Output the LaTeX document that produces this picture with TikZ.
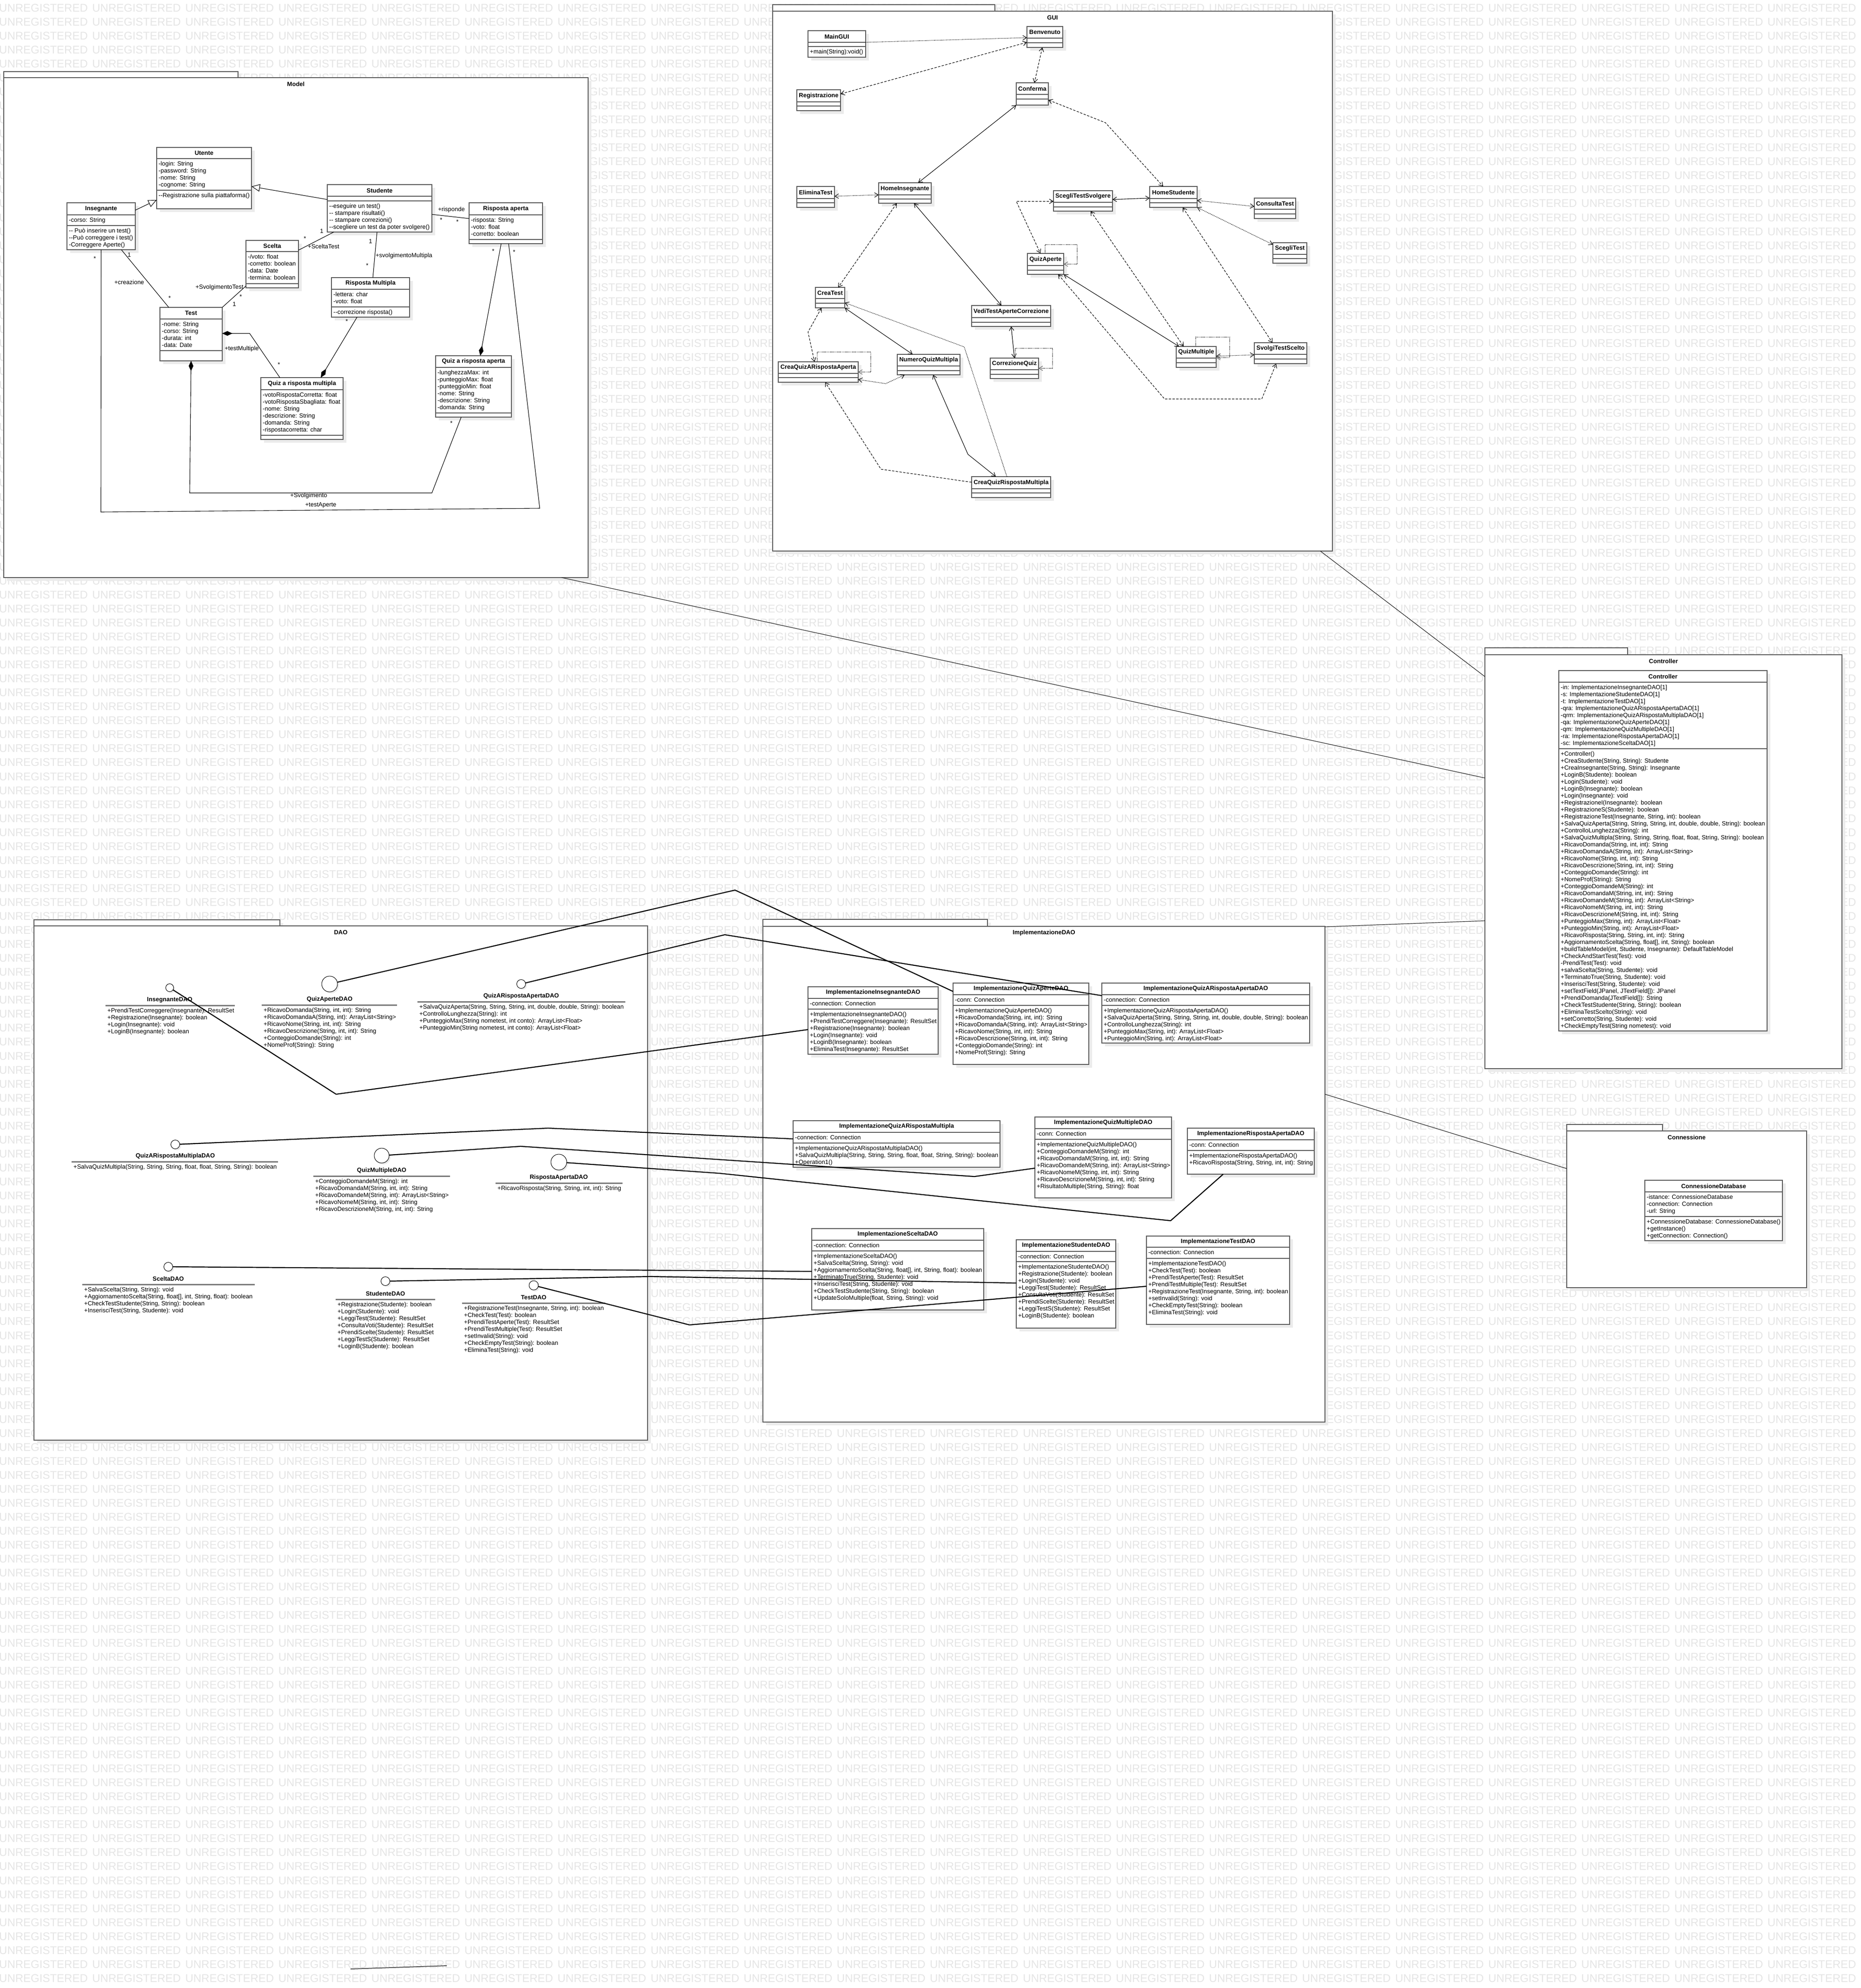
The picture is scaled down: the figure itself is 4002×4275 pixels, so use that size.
\documentclass[tikz,border=0pt]{standalone}
\usepackage{fontspec}
\setmainfont{Liberation Sans}[Ligatures=TeXOff]
\usetikzlibrary{arrows.meta,shadows}

\definecolor{umlborder}{gray}{0.35}
\definecolor{umlshadow}{gray}{0.92}
\definecolor{wmgray}{gray}{0.9}

\tikzset{
  classbox/.style={draw=umlborder, line width=2pt, fill=white, inner sep=0pt, outer sep=0pt,
    drop shadow={shadow xshift=7pt, shadow yshift=-7pt, fill=umlshadow, opacity=1}},
  classline/.style={draw=umlborder, line width=2pt},
  classname/.style={font=\fontsize{13}{15}\selectfont\bfseries, inner sep=0pt},
  members/.style={anchor=north west, inner xsep=4pt, inner ysep=0pt, yshift=-3pt, align=left,
    font=\fontsize{13}{15}\selectfont},
  pkgbox/.style={draw=umlborder, line width=2pt, fill=white, inner sep=0pt, outer sep=0pt,
    drop shadow={shadow xshift=7pt, shadow yshift=-7pt, fill=umlshadow, opacity=1}},
  pkgtitle/.style={font=\fontsize{13}{15}\selectfont\bfseries, inner sep=0pt},
  iface/.style={circle, draw=black, line width=1pt, fill=white, inner sep=0pt, outer sep=0pt,
    drop shadow={shadow xshift=3pt, shadow yshift=-3pt, fill=umlshadow, opacity=1}},
  ifline/.style={draw=umlborder!80, line width=3pt},
  assoc/.style={draw=black, line width=1.1pt},
  gen/.style={assoc, -{Triangle[open, length=18pt, width=16pt, fill=white]}},
  comp/.style={assoc, -{Diamond[length=22pt, width=10pt]}},
  lbl/.style={font=\fontsize{13}{15}\selectfont, inner sep=0pt},
  nav/.style={draw=black, line width=1.1pt},
  dsh/.style={nav, dash pattern=on 5pt off 3pt},
  dtt/.style={nav, dash pattern=on 1.6pt off 1.6pt},
  loopl/.style={draw=black!60, line width=1.1pt, dash pattern=on 1.6pt off 1.6pt},
  real/.style={draw=black, line width=2.2pt},
  dep/.style={draw=black!85, line width=1.2pt},
  watermark/.style={anchor=west, inner sep=0pt, text=wmgray, font=\fontsize{24}{24}\selectfont}
}

% class box: id, left, top, right, bottom, first divider, second divider, name
\newcommand{\umlclass}[8]{%
  \node[classbox, anchor=north west, minimum width={(#4-#2)*1pt}, minimum height={(#5-#3)*1pt}] (#1) at (#2,#3) {};
  \draw[classline] (#2,#6) -- (#4,#6) (#2,#7) -- (#4,#7);
  \node[classname] (#1-name) at ({(#2+#4)/2},{(#3+#6)/2}) {#8};
  \coordinate (#1-a) at (#2,#6);
  \coordinate (#1-o) at (#2,#7);
}
% package: id, left, tab top, tab right, frame top, right, bottom, title
\newcommand{\umlpackage}[8]{%
  \node[pkgbox, anchor=south west, minimum width={(#4-#2)*1pt}, minimum height={(#5-#3)*1pt}] (#1-tab) at (#2,#5) {};
  \node[pkgbox, anchor=north west, minimum width={(#6-#2)*1pt}, minimum height={(#7-#5)*1pt}] (#1) at (#2,#5) {};
  \node[pkgtitle] (#1-title) at ({(#2+#6)/2},#5+14) {#8};
}
% interface: id, cx, cy, radius, line y, line left, line right, name
\newcommand{\umliface}[8]{%
  \node[iface, minimum size={2*#4*1pt}] (#1) at (#2,#3) {};
  \node[classname] (#1-name) at (#2,#5-12) {#8};
  \draw[ifline] (#6,#5) -- (#7,#5);
  \coordinate (#1-o) at (#6,#5);
}
\newcommand{\fl}{\rule{0pt}{12pt}}
\newcommand{\members}[2]{\node[members] (#1-t) at (#1) {\fl #2};}
\newcommand{\wmword}{\makebox[200.2pt][l]{UNREGISTERED}}
\newcommand{\wmrow}{\wmword\wmword\wmword\wmword\wmword\wmword\wmword\wmword\wmword\wmword\wmword%
  \wmword\wmword\wmword\wmword\wmword\wmword\wmword\wmword\wmword\wmword}

\begin{document}
\begin{tikzpicture}[x=1pt, y=-1pt, >={Straight Barb[length=8pt, width=10pt]}]
  \useasboundingbox (0,0) rectangle (4002,4275);
  \fill[white] (0,0) rectangle (4002,4275);
  \begin{scope}
    \clip (0,0) rectangle (4002,4275);
    \foreach \k in {0,...,141}
      \node[watermark] (wm\k) at (-2,17+30.05*\k) {\wmrow};
  \end{scope}

  % packages
  \umlpackage{Model}{8}{154}{512}{167}{1265}{1242}{Model}
  \umlpackage{GUI}{1662}{10}{2140}{24}{2866}{1185}{GUI}
  \umlpackage{CtrlPkg}{3194}{1393}{3501}{1408}{3962}{2298}{Controller}
  \umlpackage{DAO}{73}{1978}{602}{1991}{1393}{3097}{DAO}
  \umlpackage{ImplDAO}{1641}{1977}{2124}{1992}{2850}{3058}{ImplementazioneDAO}
  \umlpackage{Conn}{3370}{2418}{3576}{2432}{3886}{2769}{Connessione}

  % Model
  \umlclass{Utente}{337}{317}{541}{449}{341}{409}{Utente}
  \members{Utente-a}{-login: String\\-password: String\\-nome: String\\-cognome: String}
  \members{Utente-o}{--Registrazione sulla piattaforma()}
  \umlclass{Insegnante}{144}{436}{291}{537}{462}{485}{Insegnante}
  \members{Insegnante-a}{-corso: String}
  \members{Insegnante-o}{-- Può inserire un test()\\--Può correggere i test()\\-Correggere Aperte()}
  \umlclass{Studente}{704}{397}{929}{499}{422}{432}{Studente}
  \members{Studente-o}{--eseguire un test()\\-- stampare risultati()\\-- stampare correzioni()\\--scegliere un test da poter svolgere()}
  \umlclass{RispAperta}{1009}{436}{1167}{524}{462}{515}{Risposta aperta}
  \members{RispAperta-a}{-risposta: String\\-voto: float\\-corretto: boolean}
  \umlclass{Scelta}{529}{517}{642}{619}{541}{610}{Scelta}
  \members{Scelta-a}{-/voto: float\\-corretto: boolean\\-data: Date\\-termina: boolean}
  \umlclass{RispMult}{713}{597}{881}{682}{622}{660}{Risposta Multipla}
  \members{RispMult-a}{-lettera: char\\-voto: float}
  \members{RispMult-o}{--correzione risposta()}
  \umlclass{Test}{344}{661}{478}{776}{686}{754}{Test}
  \members{Test-a}{-nome: String\\-corso: String\\-durata: int\\-data: Date}
  \umlclass{QuizMult}{561}{812}{738}{945}{838}{936}{Quiz a risposta multipla}
  \members{QuizMult-a}{-votoRispostaCorretta: float\\-votoRispostaSbagliata: float\\-nome: String\\-descrizione: String\\-domanda: String\\-rispostacorretta: char}
  \umlclass{QuizAperta}{937}{765}{1100}{897}{790}{888}{Quiz a risposta aperta}
  \members{QuizAperta-a}{-lunghezzaMax: int\\-punteggioMax: float\\-punteggioMin: float\\-nome: String\\-descrizione: String\\-domanda: String}

  \draw[gen] ([yshift=-16pt]Insegnante.north east) -- ([yshift=19pt]Utente.south west);
  \draw[gen] ([yshift=-32pt]Studente.north west) -- ([yshift=-84pt]Utente.north east);
  \draw[assoc] ([yshift=38pt]Studente.south east) -- ([yshift=-34pt]RispAperta.north west);
  \draw[assoc] ([xshift=14pt]Studente.south west) -- ([yshift=-21pt]Scelta.north east);
  \draw[assoc] ([xshift=107pt]Studente.south west) -- ([xshift=89pt]RispMult.north west);
  \draw[assoc] ([xshift=-30pt]Insegnante.south east) -- ([xshift=19pt]Test.north west);
  \draw[assoc] ([yshift=4pt]Scelta.south west) -- (Test.north east);
  \draw[comp] ([xshift=55pt]RispMult.south west) -- ([xshift=129pt]QuizMult.north west);
  \draw[comp] ([xshift=41pt]QuizMult.north west) -- (537,717) -- ([yshift=-56pt]Test.north east);
  \draw[comp] ([xshift=69pt]RispAperta.south west) -- ([xshift=96pt]QuizAperta.north west);
  \draw[comp] ([xshift=55pt]QuizAperta.south west) -- (929,1060) -- (408,1060) -- (Test.south);
  \draw[assoc] (Insegnante.south) -- (217,1101) -- (1161,1093) -- ([xshift=85pt]RispAperta.south west);

  \node[lbl] (l1) at (971,451) {+risponde};
  \node[lbl] (l2) at (949,473) {*};
  \node[lbl] (l3) at (984,477) {*};
  \node[lbl] (l4) at (692,497) {1};
  \node[lbl] (l5) at (656,513) {*};
  \node[lbl] (l6) at (696,530) {+SceltaTest};
  \node[lbl] (l7) at (797,519) {1};
  \node[lbl] (l8) at (869,550) {+svolgimentoMultipla};
  \node[lbl] (l9) at (790,571) {*};
  \node[lbl] (l10) at (278,548) {1};
  \node[lbl] (l11) at (278,607) {+creazione};
  \node[lbl] (l12) at (365,641) {*};
  \node[lbl] (l13) at (472,618) {+SvolgimentoTest};
  \node[lbl] (l14) at (518,638) {*};
  \node[lbl] (l15) at (504,654) {1};
  \node[lbl] (l16) at (746,691) {*};
  \node[lbl] (l17) at (520,750) {+testMultiple};
  \node[lbl] (l18) at (600,784) {*};
  \node[lbl] (l19) at (1061,540) {*};
  \node[lbl] (l20) at (664,1066) {+Svolgimento};
  \node[lbl] (l21) at (971,910) {*};
  \node[lbl] (l22) at (204,556) {*};
  \node[lbl] (l23) at (1106,542) {*};
  \node[lbl] (l24) at (690,1086) {+testAperte};

  % GUI
  \umlclass{MainGUI}{1738}{66}{1862}{123}{91}{100}{MainGUI}
  \members{MainGUI-o}{+main(String):void()}
  \umlclass{Benvenuto}{2209}{57}{2286}{102}{82}{92}{Benvenuto}
  \umlclass{Registrazione}{1714}{193}{1808}{238}{219}{228}{Registrazione}
  \umlclass{Conferma}{2186}{178}{2255}{226}{203}{213}{Conferma}
  \umlclass{EliminaTest}{1714}{401}{1795}{446}{427}{436}{EliminaTest}
  \umlclass{HomeIns}{1890}{393}{2003}{437}{419}{428}{HomeInsegnante}
  \umlclass{ScegliSvolg}{2266}{410}{2393}{454}{435}{445}{ScegliTestSvolgere}
  \umlclass{HomeStud}{2473}{401}{2575}{446}{427}{436}{HomeStudente}
  \umlclass{ConsultaTest}{2698}{426}{2787}{470}{450}{460}{ConsultaTest}
  \umlclass{ScegliTest}{2738}{522}{2811}{566}{547}{556}{ScegliTest}
  \umlclass{QuizAperte}{2210}{545}{2288}{590}{571}{581}{QuizAperte}
  \umlclass{CreaTest}{1754}{618}{1817}{662}{642}{652}{CreaTest}
  \umlclass{VediTAC}{2090}{657}{2260}{702}{683}{693}{VediTestAperteCorrezione}
  \umlclass{CreaQARA}{1674}{778}{1846}{822}{803}{812}{CreaQuizARispostaAperta}
  \umlclass{NumeroQM}{1930}{762}{2065}{806}{787}{797}{NumeroQuizMultipla}
  \umlclass{CorrQuiz}{2130}{770}{2234}{814}{795}{805}{CorrezioneQuiz}
  \umlclass{QuizMultiple}{2530}{745}{2616}{790}{770}{780}{QuizMultiple}
  \umlclass{SvolgiTS}{2698}{737}{2811}{782}{762}{772}{SvolgiTestScelto}
  \umlclass{CreaQRM}{2090}{1025}{2260}{1070}{1051}{1060}{CreaQuizRispostaMultipla}

  \draw[dtt,->] ([yshift=-25pt]MainGUI.north east) -- ([yshift=-24pt]Benvenuto.north west);
  \draw[dsh,<->] ([yshift=-9pt]Registrazione.north east) -- ([yshift=-34pt]Benvenuto.north west);
  \draw[dsh,<->] ([xshift=33pt]Benvenuto.south west) -- ([xshift=39pt]Conferma.north west);
  \draw[nav,<->] (Conferma.south west) -- ([xshift=85pt]HomeIns.north west);
  \draw[dsh,<->] ([yshift=11pt]Conferma.south east) -- (2378,264) -- ([xshift=29pt]HomeStud.north west);
  \draw[dtt,<->] ([yshift=-21pt]EliminaTest.north east) -- ([yshift=-26pt]HomeIns.north west);
  \draw[nav,<->] ([yshift=-19pt]ScegliSvolg.north east) -- ([yshift=-25pt]HomeStud.north west);
  \draw[dtt,<->] ([yshift=-30pt]HomeStud.north east) -- ([yshift=-18pt]ConsultaTest.north west);
  \draw[dtt,<->] (HomeStud.south east) -- ([yshift=-4pt]ScegliTest.north west);
  \draw[dsh,<->] ([yshift=-23pt]ScegliSvolg.north west) -- (2186,433) -- ([xshift=28pt]QuizAperte.north west);
  \draw[loopl,->] ([xshift=38pt]QuizAperte.north west) -- (2248,526) -- (2317,526) -- (2317,568) -- ([yshift=-23pt]QuizAperte.north east);
  \draw[dsh,<->] ([xshift=39pt]HomeIns.south west) -- ([xshift=49pt]CreaTest.north west);
  \draw[nav,<->] ([xshift=76pt]HomeIns.south west) -- ([xshift=64pt]VediTAC.north west);
  \draw[dsh,<->] ([xshift=80pt]ScegliSvolg.south west) -- ([xshift=16pt]QuizMultiple.north west);
  \draw[dsh,<->] ([xshift=71pt]HomeStud.south west) -- ([xshift=39pt]SvolgiTS.north west);
  \draw[nav,<->] (QuizAperte.south east) -- ([xshift=6pt]QuizMultiple.north west);
  \draw[dsh,<->] ([xshift=-12pt]QuizAperte.south east) -- (2505,858) -- (2714,858) -- ([xshift=47pt]SvolgiTS.south west);
  \draw[dtt,<->] ([yshift=-21pt]QuizMultiple.north east) -- ([yshift=-26pt]SvolgiTS.north west);
  \draw[loopl,->] ([xshift=42pt]QuizMultiple.north west) -- (2572,725) -- (2645,725) -- (2645,769) -- ([yshift=-24pt]QuizMultiple.north east);
  \draw[dsh,<->] ([xshift=13pt]CreaTest.south west) -- (1738,714) -- ([xshift=78pt]CreaQARA.north west);
  \draw[loopl,->] ([xshift=84pt]CreaQARA.north west) -- (1758,757) -- (1873,757) -- (1873,800) -- ([yshift=-22pt]CreaQARA.north east);
  \draw[nav,<->] (CreaTest.south east) -- ([xshift=33pt]NumeroQM.north west);
  \draw[dtt,->] ([xshift=76pt]CreaQRM.north west) -- (2074,746) -- ([yshift=-33pt]CreaTest.north east);
  \draw[dtt,<->] ([yshift=6pt]CreaQARA.south east) -- (1905,825) -- ([xshift=16pt]NumeroQM.south west);
  \draw[nav,<->] ([xshift=77pt]NumeroQM.south west) -- (2082,977) -- ([xshift=52pt]CreaQRM.north west);
  \draw[dsh,->] ([yshift=-12pt]CreaQRM.north west) -- (1895,1009) -- ([xshift=101pt]CreaQARA.south west);
  \draw[nav,<->] ([xshift=85pt]VediTAC.south west) -- ([xshift=52pt]CorrQuiz.north west);
  \draw[loopl,->] ([xshift=54pt]CorrQuiz.north west) -- (2184,749) -- (2264,749) -- (2264,792) -- ([yshift=-22pt]CorrQuiz.north east);

  % Controller
  \umlclass{Controller}{3353}{1442}{3801}{2217}{1467}{1610}{Controller}
  \members{Controller-a}{-in: ImplementazioneInsegnanteDAO[1]\\-s: ImplementazioneStudenteDAO[1]\\-t: ImplementazioneTestDAO[1]\\-qra: ImplementazioneQuizARispostaApertaDAO[1]\\-qrm: ImplementazioneQuizARispostaMultiplaDAO[1]\\-qa: ImplementazioneQuizAperteDAO[1]\\-qm: ImplementazioneQuizMultipleDAO[1]\\-ra: ImplementazioneRispostaApertaDAO[1]\\-sc: ImplementazioneSceltaDAO[1]}
  \members{Controller-o}{+Controller()\\+CreaStudente(String, String): Studente\\+CreaInsegnante(String, String): Insegnante\\+LoginB(Studente): boolean\\+Login(Studente): void\\+LoginB(Insegnante): boolean\\+Login(Insegnante): void\\+RegistrazioneI(Insegnante): boolean\\+RegistrazioneS(Studente): boolean\\+RegistrazioneTest(Insegnante, String, int): boolean\\+SalvaQuizAperta(String, String, String, int, double, double, String): boolean\\+ControlloLunghezza(String): int\\+SalvaQuizMultipla(String, String, String, float, float, String, String): boolean\\+RicavoDomanda(String, int, int): String\\+RicavoDomandaA(String, int): ArrayList<String>\\+RicavoNome(String, int, int): String\\+RicavoDescrizione(String, int, int): String\\+ConteggioDomande(String): int\\+NomeProf(String): String\\+ConteggioDomandeM(String): int\\+RicavoDomandaM(String, int, int): String\\+RicavoDomandeM(String, int): ArrayList<String>\\+RicavoNomeM(String, int, int): String\\+RicavoDescrizioneM(String, int, int): String\\+PunteggioMax(String, int): ArrayList<Float>\\+PunteggioMin(String, int): ArrayList<Float>\\+RicavoRisposta(String, String, int, int): String\\+AggiornamentoScelta(String, float[], int, String): boolean\\+buildTableModel(int, Studente, Insegnante): DefaultTableModel\\+CheckAndStartTest(Test): void\\-PrendiTest(Test): void\\+salvaScelta(String, Studente): void\\+TerminatoTrue(String, Studente): void\\+InserisciTest(String, Studente): void\\+setTextField(JPanel, JTextField[]): JPanel\\+PrendiDomanda(JTextField[]): String\\+CheckTestStudente(String, String): boolean\\+EliminaTestScelto(String): void\\+setCorretto(String, Studente): void\\+CheckEmptyTest(String nometest): void}

  % Connessione
  \umlclass{ConnDB}{3538}{2538}{3834}{2668}{2563}{2616}{ConnessioneDatabase}
  \members{ConnDB-a}{-istance: ConnessioneDatabase\\-connection: Connection\\-url: String}
  \members{ConnDB-o}{+ConnessioneDatabase: ConnessioneDatabase()\\+getInstance()\\+getConnection: Connection()}

  % DAO
  \umliface{InsegnanteDAO}{365}{2124}{8.5}{2162}{227}{505}{InsegnanteDAO}
  \members{InsegnanteDAO-o}{+PrendiTestCorreggere(Insegnante): ResultSet\\+Registrazione(Insegnante): boolean\\+Login(Insegnante): void\\+LoginB(Insegnante): boolean}
  \umliface{QuizAperteDAO}{709}{2116}{17}{2161}{563}{854}{QuizAperteDAO}
  \members{QuizAperteDAO-o}{+RicavoDomanda(String, int, int): String\\+RicavoDomandaA(String, int): ArrayList<String>\\+RicavoNome(String, int, int): String\\+RicavoDescrizione(String, int, int): String\\+ConteggioDomande(String): int\\+NomeProf(String): String}
  \umliface{QuizARispostaApertaDAO}{1121}{2116}{9.5}{2154}{898}{1345}{QuizARispostaApertaDAO}
  \members{QuizARispostaApertaDAO-o}{+SalvaQuizAperta(String, String, String, int, double, double, String): boolean\\+ControlloLunghezza(String): int\\+PunteggioMax(String nometest, int conto): ArrayList<Float>\\+PunteggioMin(String nometest, int conto): ArrayList<Float>}
  \umliface{QuizARispostaMultiplaDAO}{377}{2461}{9.5}{2498}{154}{598}{QuizARispostaMultiplaDAO}
  \members{QuizARispostaMultiplaDAO-o}{+SalvaQuizMultipla(String, String, String, float, float, String, String): boolean}
  \umliface{QuizMultipleDAO}{821}{2485}{16}{2529}{674}{968}{QuizMultipleDAO}
  \members{QuizMultipleDAO-o}{+ConteggioDomandeM(String): int\\+RicavoDomandaM(String, int, int): String\\+RicavoDomandeM(String, int): ArrayList<String>\\+RicavoNomeM(String, int, int): String\\+RicavoDescrizioneM(String, int, int): String}
  \umliface{RispostaApertaDAO}{1202}{2499}{17}{2544}{1066}{1339}{RispostaApertaDAO}
  \members{RispostaApertaDAO-o}{+RicavoRisposta(String, String, int, int): String}
  \umliface{SceltaDAO}{362}{2724}{9.5}{2762}{177}{548}{SceltaDAO}
  \members{SceltaDAO-o}{+SalvaScelta(String, String): void\\+AggiornamentoScelta(String, float[], int, String, float): boolean\\+CheckTestStudente(String, String): boolean\\+InserisciTest(String, Studente): void}
  \umliface{StudenteDAO}{829}{2755}{9.5}{2794}{722}{936}{StudenteDAO}
  \members{StudenteDAO-o}{+Registrazione(Studente): boolean\\+Login(Studente): void\\+LeggiTest(Studente): ResultSet\\+ConsultaVoti(Studente): ResultSet\\+PrendiScelte(Studente): ResultSet\\+LeggiTestS(Studente): ResultSet\\+LoginB(Studente): boolean}
  \umliface{TestDAO}{1148}{2764}{10}{2802}{994}{1302}{TestDAO}
  \members{TestDAO-o}{+RegistrazioneTest(Insegnante, String, int): boolean\\+CheckTest(Test): boolean\\+PrendiTestAperte(Test): ResultSet\\+PrendiTestMultiple(Test): ResultSet\\+setInvalid(String): void\\+CheckEmptyTest(String): boolean\\+EliminaTest(String): void}

  % ImplementazioneDAO
  \umlclass{ImplIns}{1738}{2122}{2018}{2267}{2147}{2170}{ImplementazioneInsegnanteDAO}
  \members{ImplIns-a}{-connection: Connection}
  \members{ImplIns-o}{+ImplementazioneInsegnanteDAO()\\+PrendiTestCorreggere(Insegnante): ResultSet\\+Registrazione(Insegnante): boolean\\+Login(Insegnante): void\\+LoginB(Insegnante): boolean\\+EliminaTest(Insegnante): ResultSet}
  \umlclass{ImplQA}{2050}{2114}{2342}{2289}{2139}{2162}{ImplementazioneQuizAperteDAO}
  \members{ImplQA-a}{-conn: Connection}
  \members{ImplQA-o}{+ImplementazioneQuizAperteDAO()\\+RicavoDomanda(String, int, int): String\\+RicavoDomandaA(String, int): ArrayList<String>\\+RicavoNome(String, int, int): String\\+RicavoDescrizione(String, int, int): String\\+ConteggioDomande(String): int\\+NomeProf(String): String}
  \umlclass{ImplQARA}{2370}{2114}{2817}{2243}{2139}{2162}{ImplementazioneQuizARispostaApertaDAO}
  \members{ImplQARA-a}{-connection: Connection}
  \members{ImplQARA-o}{+ImplementazioneQuizARispostaApertaDAO()\\+SalvaQuizAperta(String, String, String, int, double, double, String): boolean\\+ControlloLunghezza(String): int\\+PunteggioMax(String, int): ArrayList<Float>\\+PunteggioMin(String, int): ArrayList<Float>}
  \umlclass{ImplQARM}{1706}{2410}{2151}{2510}{2435}{2458}{ImplementazioneQuizARispostaMultipla}
  \members{ImplQARM-a}{-connection: Connection}
  \members{ImplQARM-o}{+ImplementazioneQuizARispostaMultiplaDAO()\\+SalvaQuizMultipla(String, String, String, float, float, String, String): boolean\\+Operation1()}
  \umlclass{ImplQM}{2226}{2402}{2520}{2576}{2427}{2450}{ImplementazioneQuizMultipleDAO}
  \members{ImplQM-a}{-conn: Connection}
  \members{ImplQM-o}{+ImplementazioneQuizMultipleDAO()\\+ConteggioDomandeM(String): int\\+RicavoDomandaM(String, int, int): String\\+RicavoDomandeM(String, int): ArrayList<String>\\+RicavoNomeM(String, int, int): String\\+RicavoDescrizioneM(String, int, int): String\\+RisultatoMultiple(String, String): float}
  \umlclass{ImplRA}{2554}{2426}{2827}{2525}{2451}{2474}{ImplementazioneRispostaApertaDAO}
  \members{ImplRA-a}{-conn: Connection}
  \members{ImplRA-o}{+ImplementazioneRispostaApertaDAO()\\+RicavoRisposta(String, String, int, int): String}
  \umlclass{ImplScelta}{1746}{2642}{2116}{2817}{2667}{2690}{ImplementazioneSceltaDAO}
  \members{ImplScelta-a}{-connection: Connection}
  \members{ImplScelta-o}{+ImplementazioneSceltaDAO()\\+SalvaScelta(String, String): void\\+AggiornamentoScelta(String, float[], int, String, float): boolean\\+TerminatoTrue(String, Studente): void\\+InserisciTest(String, Studente): void\\+CheckTestStudente(String, String): boolean\\+UpdateSoloMultiple(float, String, String): void}
  \umlclass{ImplStud}{2186}{2666}{2400}{2856}{2691}{2713}{ImplementazioneStudenteDAO}
  \members{ImplStud-a}{-connection: Connection}
  \members{ImplStud-o}{+ImplementazioneStudenteDAO()\\+Registrazione(Studente): boolean\\+Login(Studente): void\\+LeggiTest(Studente): ResultSet\\+ConsultaVoti(Studente): ResultSet\\+PrendiScelte(Studente): ResultSet\\+LeggiTestS(Studente): ResultSet\\+LoginB(Studente): boolean}
  \umlclass{ImplTest}{2466}{2658}{2774}{2848}{2682}{2706}{ImplementazioneTestDAO}
  \members{ImplTest-a}{-connection: Connection}
  \members{ImplTest-o}{+ImplementazioneTestDAO()\\+CheckTest(Test): boolean\\+PrendiTestAperte(Test): ResultSet\\+PrendiTestMultiple(Test): ResultSet\\+RegistrazioneTest(Insegnante, String, int): boolean\\+setInvalid(String): void\\+CheckEmptyTest(String): boolean\\+EliminaTest(String): void}

  \draw[real] (InsegnanteDAO) -- (723,2353) -- ([yshift=-92pt]ImplIns.north west);
  \draw[real] (QuizAperteDAO) -- (1581,1914) -- ([yshift=-18pt]ImplQA.north west);
  \draw[real] (QuizARispostaApertaDAO) -- (1559,2010) -- ([yshift=-27pt]ImplQARA.north west);
  \draw[real] (QuizARispostaMultiplaDAO) -- (1179,2426) -- ([yshift=-39pt]ImplQARM.north west);
  \draw[real] (QuizMultipleDAO) -- (1120,2465) -- (2096,2530) -- ([yshift=-110pt]ImplQM.north west);
  \draw[real] (RispostaApertaDAO) -- (1547,2523) -- (2518,2625) -- ([xshift=77pt]ImplRA.south west);
  \draw[real] (SceltaDAO) -- ([yshift=-92pt]ImplScelta.north west);
  \draw[real] (StudenteDAO) -- (1400,2745) -- ([yshift=-93pt]ImplStud.north west);
  \draw[real] (TestDAO) -- (1483,2849) -- ([yshift=-108pt]ImplTest.north west);

  % packages to controller
  \draw[dep] ([xshift=-57pt]Model.south east) -- ([yshift=-265pt]CtrlPkg.north west);
  \draw[dep] ([xshift=-26pt]GUI.south east) -- ([yshift=-47pt]CtrlPkg.north west);
  \draw[dep] ([yshift=-1pt]ImplDAO.north east) -- ([yshift=-572pt]CtrlPkg.north west);
  \draw[dep] ([yshift=-361pt]ImplDAO.north east) -- ([yshift=-81pt]Conn.north west);
  \coordinate (s1) at (754,4234);
  \coordinate (s2) at (961,4227);
  \draw[dep, draw=black!65, line width=2pt] (s1) -- (s2);
\end{tikzpicture}
\end{document}
